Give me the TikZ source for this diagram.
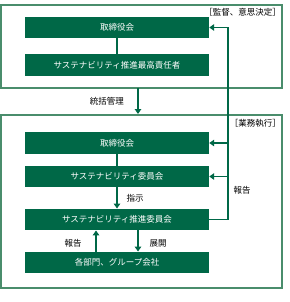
\documentclass[tikz,border=0pt]{standalone}
\usepackage{fontspec}
\setmainfont{Noto Sans CJK JP}
\usetikzlibrary{arrows.meta,positioning}
\definecolor{boardgreen}{HTML}{006847}
\definecolor{framegreen}{HTML}{4A8D6C}

\tikzset{
  orgbox/.style={fill=boardgreen, text=white, minimum width=184pt, minimum height=21.5pt,
    inner sep=0pt, font=\fontsize{8.5}{10}\selectfont},
  tag/.style={font=\fontsize{8.5}{10}\selectfont, inner sep=0pt},
  link/.style={boardgreen, line width=1.4pt},
  flow/.style={link, -{Triangle[length=5pt, width=6.5pt]}}
}

\begin{document}
\begin{tikzpicture}[x=1pt, y=-1pt]
  \useasboundingbox (0,0) rectangle (289,302);

  % frames
  \draw[framegreen, line width=1.2pt] (1,5) rectangle (282,88);
  \draw[framegreen, line width=1.2pt] (1,115) rectangle (282,288);
  \node[tag, anchor=east] (supervise) at (281,12) {［監督、意思決定］};
  \node[tag, anchor=east] (execute) at (281,123) {［業務執行］};

  % supervision side
  \node[orgbox] (board1) at (117,27.5) {取締役会};
  \node[orgbox] (cso) at (117,65) {サステナビリティ推進最高責任者};
  \draw[link] (board1) -- (cso);

  % execution side
  \node[orgbox] (board2) at (117,143) {取締役会};
  \node[orgbox] (sustcom) at (117,176.5) {サステナビリティ委員会};
  \node[orgbox] (promo) at (117,219.5) {サステナビリティ推進委員会};
  \node[orgbox] (depts) at (117,262.5) {各部門、グループ会社};
  \draw[link] (board2) -- (sustcom);

  % overall management
  \coordinate (mgtop) at (138,88);
  \coordinate (mgbot) at (138,114);
  \draw[flow] (mgtop) -- (mgbot);
  \node[tag, anchor=east] (manage) at (124,101) {統括管理};

  % instruction, rollout, report
  \draw[flow] (sustcom.south) -- (promo.north);
  \node[tag] (instruct) at (135,198) {指示};
  \draw[flow] ([xshift=21pt]promo.south) -- ([xshift=21pt]depts.north);
  \node[tag] (rollout) at (158,243) {展開};
  \draw[flow] ([xshift=-21pt]depts.north) -- ([xshift=-21pt]promo.south);
  \node[tag] (reportup) at (73,243) {報告};

  % report loop
  \coordinate (rpbot) at (228,219.5);
  \coordinate (rptop) at (228,27.5);
  \draw[link] (promo.east) -- (rpbot) -- (rptop);
  \draw[flow] (rptop) -- (board1.east);
  \draw[flow] (228,143) -- (board2.east);
  \draw[flow] (228,176.5) -- (sustcom.east);
  \node[tag] (report) at (242,190) {報告};
\end{tikzpicture}
\end{document}
